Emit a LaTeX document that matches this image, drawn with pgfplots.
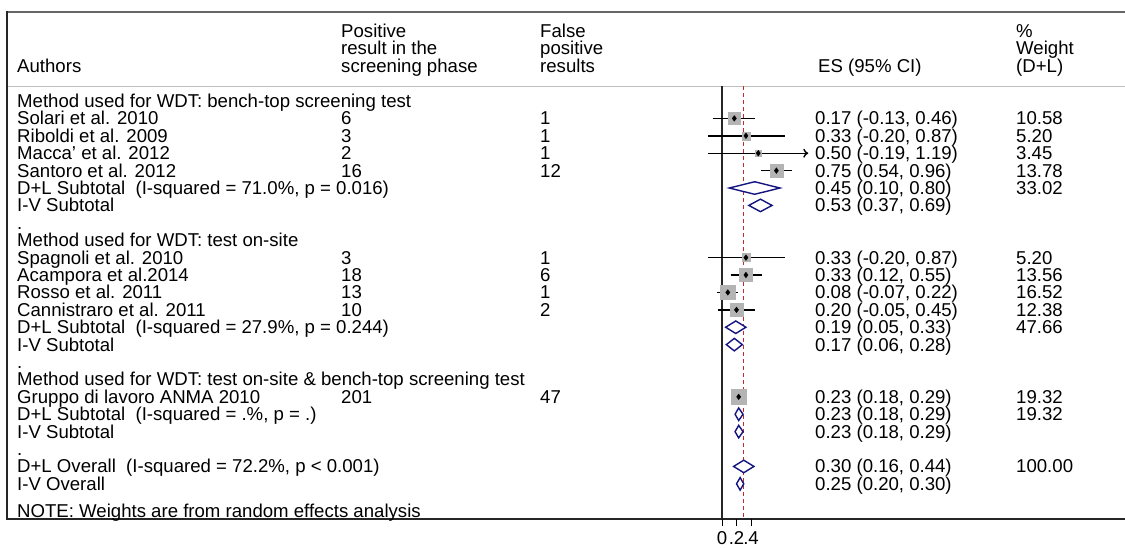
\documentclass[border=0pt]{standalone}
\usepackage{pgfplots}
\pgfplotsset{compat=1.18}
\usetikzlibrary{arrows.meta}
\usepackage{fontspec}
\setmainfont{Liberation Sans}
\definecolor{navyd}{RGB}{20,20,128}
\definecolor{redl}{RGB}{200,40,40}
\definecolor{boxg}{RGB}{180,180,180}
\newcommand\X[1]{\fpeval{(#1-722)/72.5}}
\newcommand\Y[1]{\fpeval{(#1-101)/17.4+1}}
\newcommand\T[3]{\node[anchor=base west,yshift=-6.5pt,inner sep=0pt] at (axis cs:\X{#1},#2) {#3};}

\pgfplotstableread{
row es lo hi w
2 0.17 -0.13 0.46 10.58
3 0.33 -0.20 0.87 5.20
4 0.50 -0.19 1.19 3.45
5 0.75 0.54 0.96 13.78
10 0.33 -0.20 0.87 5.20
11 0.33 0.12 0.55 13.56
12 0.08 -0.07 0.22 16.52
13 0.20 -0.05 0.45 12.38
18 0.23 0.18 0.29 19.32
}\studies

\begin{document}
\begin{tikzpicture}[font=\fontsize{18.6}{20}\selectfont]
\begin{axis}[width=1125pt,height=547pt,scale only axis,
  xmin=-9.958621, xmax=5.558621, ymin=-4.804598, ymax=26.632184,
  y dir=reverse, axis lines=none, clip=false]

% frame
\draw[black!60, line width=2.2pt] (axis cs:\X{7},\Y{12}) -- (axis cs:\X{1125},\Y{12});
\draw[black!25, line width=1pt] (axis cs:\X{7},\Y{86}) -- (axis cs:\X{1125},\Y{86});
\draw[black!85, line width=1.2pt] (axis cs:\X{7},\Y{11}) -- (axis cs:\X{7},\Y{519}) -- (axis cs:\X{1125},\Y{519});

% zero and overall lines
\draw[black!85, line width=1.1pt] (axis cs:0,\Y{86}) -- (axis cs:0,\Y{519});
\draw[redl, line width=1.1pt, dash pattern=on 4pt off 3pt] (axis cs:0.30,\Y{86}) -- (axis cs:0.30,\Y{519});

% ticks
\draw[black, line width=1pt] (axis cs:0,\Y{519}) -- (axis cs:0,\Y{526});
\draw[black, line width=1pt] (axis cs:0.2,\Y{519}) -- (axis cs:0.2,\Y{526});
\draw[black, line width=1pt] (axis cs:0.4,\Y{519}) -- (axis cs:0.4,\Y{526});
\node[anchor=base,yshift=-6.5pt,inner sep=0pt] at (axis cs:0,\Y{538}) {0};
\node[anchor=base,yshift=-6.5pt,inner sep=0pt] at (axis cs:0.2,\Y{538}) {.2};
\node[anchor=base,yshift=-6.5pt,inner sep=0pt] at (axis cs:0.4,\Y{538}) {.4};

% weight boxes (side proportional to sqrt of weight)
\addplot[only marks, mark=square*, mark size=5.81pt, boxg] coordinates {(0.17,2)};
\addplot[only marks, mark=square*, mark size=4.07pt, boxg] coordinates {(0.33,3)};
\addplot[only marks, mark=square*, mark size=3.32pt, boxg] coordinates {(0.50,4)};
\addplot[only marks, mark=square*, mark size=6.63pt, boxg] coordinates {(0.75,5)};
\addplot[only marks, mark=square*, mark size=4.07pt, boxg] coordinates {(0.33,10)};
\addplot[only marks, mark=square*, mark size=6.57pt, boxg] coordinates {(0.33,11)};
\addplot[only marks, mark=square*, mark size=7.26pt, boxg] coordinates {(0.08,12)};
\addplot[only marks, mark=square*, mark size=6.28pt, boxg] coordinates {(0.20,13)};
\addplot[only marks, mark=square*, mark size=7.85pt, boxg] coordinates {(0.23,18)};

% confidence intervals
\addplot[black, line width=1.4pt] coordinates {(-0.13,2) (0.46,2)};
\addplot[black, line width=1.4pt] coordinates {(-0.20,3) (0.87,3)};
\addplot[black, line width=1.4pt, -{To[length=5pt,width=9pt]}] coordinates {(-0.19,4) (1.19,4)};
\addplot[black, line width=1.4pt] coordinates {(0.54,5) (0.96,5)};
\addplot[black, line width=1.4pt] coordinates {(-0.20,10) (0.87,10)};
\addplot[black, line width=1.4pt] coordinates {(0.12,11) (0.55,11)};
\addplot[black, line width=1.4pt] coordinates {(-0.07,12) (0.22,12)};
\addplot[black, line width=1.4pt] coordinates {(-0.05,13) (0.45,13)};
\addplot[black, line width=1.4pt] coordinates {(0.18,18) (0.29,18)};

% point estimates
\addplot[only marks, mark=diamond*, mark size=2.8pt, black] table[x=es, y=row] {\studies};

% pooled diamonds
\addplot[navyd, line width=1.4pt, fill=white] coordinates {(0.10,6) (0.45,5.64) (0.80,6) (0.45,6.36)} -- cycle;
\addplot[navyd, line width=1.4pt, fill=white] coordinates {(0.37,7) (0.53,6.64) (0.69,7) (0.53,7.36)} -- cycle;
\addplot[navyd, line width=1.4pt, fill=white] coordinates {(0.05,14) (0.19,13.64) (0.33,14) (0.19,14.36)} -- cycle;
\addplot[navyd, line width=1.4pt, fill=white] coordinates {(0.06,15) (0.17,14.64) (0.28,15) (0.17,15.36)} -- cycle;
\addplot[navyd, line width=1.4pt, fill=white] coordinates {(0.18,19) (0.23,18.64) (0.29,19) (0.23,19.36)} -- cycle;
\addplot[navyd, line width=1.4pt, fill=white] coordinates {(0.18,20) (0.23,19.64) (0.29,20) (0.23,20.36)} -- cycle;
\addplot[navyd, line width=1.4pt, fill=white] coordinates {(0.16,22) (0.30,21.64) (0.44,22) (0.30,22.36)} -- cycle;
\addplot[navyd, line width=1.4pt, fill=white] coordinates {(0.20,23) (0.25,22.64) (0.30,23) (0.25,23.36)} -- cycle;

% header
\T{17}{\Y{66}}{Authors}
\T{341}{\Y{31}}{Positive}
\T{341}{\Y{48}}{result in the}
\T{341}{\Y{66}}{screening phase}
\T{540}{\Y{31}}{False}
\T{540}{\Y{48}}{positive}
\T{540}{\Y{66}}{results}
\T{818}{\Y{66}}{ES (95\% CI)}
\T{1016}{\Y{31}}{\%}
\T{1016}{\Y{48}}{Weight}
\T{1016}{\Y{66}}{(D+L)}

% column 1
\T{17}{1}{Method used for WDT: bench-top screening test}
\T{17}{2}{Solari et al. 2010}
\T{17}{3}{Riboldi et al. 2009}
\T{17}{4}{Macca' et al. 2012}
\T{17}{5}{Santoro et al. 2012}
\T{17}{6}{D+L Subtotal\ \ (I-squared = 71.0\%, p = 0.016)}
\T{17}{7}{I-V Subtotal}
\T{17}{8}{.}
\T{17}{9}{Method used for WDT: test on-site}
\T{17}{10}{Spagnoli et al. 2010}
\T{17}{11}{Acampora et al.2014}
\T{17}{12}{Rosso et al. 2011}
\T{17}{13}{Cannistraro et al. 2011}
\T{17}{14}{D+L Subtotal\ \ (I-squared = 27.9\%, p = 0.244)}
\T{17}{15}{I-V Subtotal}
\T{17}{16}{.}
\T{17}{17}{Method used for WDT: test on-site \& bench-top screening test}
\T{17}{18}{Gruppo di lavoro ANMA 2010}
\T{17}{19}{D+L Subtotal\ \ (I-squared = .\%, p = .)}
\T{17}{20}{I-V Subtotal}
\T{17}{21}{.}
\T{17}{22}{D+L Overall\ \ (I-squared = 72.2\%, p < 0.001)}
\T{17}{23}{I-V Overall}
\T{17}{\Y{511}}{NOTE: Weights are from random effects analysis}

% positive
\T{341}{2}{6}
\T{341}{3}{3}
\T{341}{4}{2}
\T{341}{5}{16}
\T{341}{10}{3}
\T{341}{11}{18}
\T{341}{12}{13}
\T{341}{13}{10}
\T{341}{18}{201}
% false positive
\T{540}{2}{1}
\T{540}{3}{1}
\T{540}{4}{1}
\T{540}{5}{12}
\T{540}{10}{1}
\T{540}{11}{6}
\T{540}{12}{1}
\T{540}{13}{2}
\T{540}{18}{47}

% ES
\T{815}{2}{0.17 (-0.13, 0.46)}
\T{815}{3}{0.33 (-0.20, 0.87)}
\T{815}{4}{0.50 (-0.19, 1.19)}
\T{815}{5}{0.75 (0.54, 0.96)}
\T{815}{6}{0.45 (0.10, 0.80)}
\T{815}{7}{0.53 (0.37, 0.69)}
\T{815}{10}{0.33 (-0.20, 0.87)}
\T{815}{11}{0.33 (0.12, 0.55)}
\T{815}{12}{0.08 (-0.07, 0.22)}
\T{815}{13}{0.20 (-0.05, 0.45)}
\T{815}{14}{0.19 (0.05, 0.33)}
\T{815}{15}{0.17 (0.06, 0.28)}
\T{815}{18}{0.23 (0.18, 0.29)}
\T{815}{19}{0.23 (0.18, 0.29)}
\T{815}{20}{0.23 (0.18, 0.29)}
\T{815}{22}{0.30 (0.16, 0.44)}
\T{815}{23}{0.25 (0.20, 0.30)}

% weights
\T{1016}{2}{10.58}
\T{1016}{3}{5.20}
\T{1016}{4}{3.45}
\T{1016}{5}{13.78}
\T{1016}{6}{33.02}
\T{1016}{10}{5.20}
\T{1016}{11}{13.56}
\T{1016}{12}{16.52}
\T{1016}{13}{12.38}
\T{1016}{14}{47.66}
\T{1016}{18}{19.32}
\T{1016}{19}{19.32}
\T{1016}{22}{100.00}
\end{axis}
\pgfresetboundingbox
\useasboundingbox (current axis.south west) rectangle (current axis.north east);
\end{tikzpicture}
\end{document}
